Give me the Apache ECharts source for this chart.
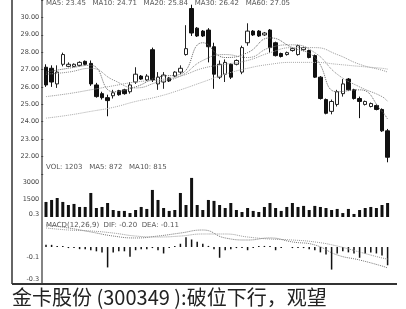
<!DOCTYPE html>
<html>
<head>
<meta charset="utf-8">
<script src="https://cdn.jsdelivr.net/npm/echarts@6/dist/echarts.min.js"></script>
<style>
html, body { margin: 0; padding: 0; background: #fff; }
#chart { width: 406px; height: 309px; }
</style>
</head>
<body>
<div id="chart"></div>
<script>
// K线数据 [开, 收, 低, 高]
const candles = [
  [27.13, 26.11, 26.00, 27.30], [27.07, 26.28, 26.00, 27.24], [26.17, 26.85, 25.94, 27.24],
  [27.30, 27.86, 27.18, 27.97], [27.18, 27.30, 27.13, 27.41], [27.18, 27.30, 27.13, 27.35],
  [27.24, 27.41, 27.18, 27.47], [27.47, 27.30, 27.24, 27.52], [27.35, 26.17, 26.06, 27.52],
  [26.11, 25.44, 25.38, 26.23], [25.61, 25.38, 25.27, 25.72], [25.38, 25.21, 24.31, 25.55],
  [25.49, 25.66, 25.33, 25.83], [25.78, 25.55, 25.49, 25.83], [25.83, 25.61, 25.55, 25.89],
  [25.72, 26.11, 25.61, 26.28], [26.28, 26.73, 26.17, 27.13], [26.62, 26.45, 26.40, 26.68],
  [26.40, 26.62, 26.34, 26.73], [28.14, 26.40, 26.28, 28.26], [26.17, 26.56, 25.83, 26.85],
  [26.28, 26.68, 25.89, 26.85], [26.51, 26.34, 26.28, 26.56], [26.62, 26.85, 26.56, 26.90],
  [26.85, 27.07, 26.73, 27.24], [27.86, 28.20, 27.80, 29.55], [30.51, 29.10, 28.93, 30.73],
  [29.38, 28.93, 28.87, 29.44], [29.21, 28.93, 28.87, 29.27], [29.27, 28.31, 27.41, 29.38],
  [28.31, 26.73, 25.89, 28.54], [26.56, 27.30, 26.45, 27.52], [26.73, 27.41, 26.28, 27.58],
  [27.30, 26.56, 26.45, 27.35], [27.30, 27.52, 27.24, 27.58], [26.85, 28.26, 26.73, 28.37],
  [28.54, 29.21, 28.37, 29.66], [29.21, 28.99, 28.93, 29.27], [29.21, 28.93, 28.87, 29.27],
  [28.99, 29.10, 28.93, 29.16], [29.27, 28.26, 27.97, 29.33], [28.54, 27.80, 27.75, 28.60],
  [27.92, 27.75, 27.69, 27.97], [27.86, 27.97, 27.80, 28.03], [28.09, 28.20, 28.03, 28.26],
  [27.86, 28.37, 27.80, 28.43], [28.14, 28.26, 28.09, 28.31], [28.09, 27.69, 27.64, 28.14],
  [27.80, 26.56, 26.51, 27.86], [26.56, 25.33, 25.27, 26.62], [25.27, 24.48, 24.42, 25.33],
  [24.59, 25.16, 24.42, 25.27], [24.99, 25.72, 24.87, 25.83], [25.61, 26.17, 25.44, 26.45],
  [26.45, 25.83, 25.78, 26.51], [25.83, 25.33, 25.27, 25.89], [25.33, 25.16, 24.20, 25.44],
  [24.99, 25.16, 24.93, 25.21], [24.87, 25.04, 24.82, 25.10], [24.93, 24.70, 24.65, 24.99],
  [24.70, 23.47, 23.41, 24.76], [23.47, 21.95, 21.66, 23.58]
]

// 均线（每隔几根估读一次，其余留空）
const ma5 = [26.85, null, null, null, 27.07, null, null, null, 27.24, null, null, null, 25.72, null, null, null,
  26.00, null, null, null, 26.56, null, null, null, 26.73, null, null, null, 28.54, null, null, null,
  27.69, null, null, null, 27.97, null, null, null, 28.82, null, null, null, 28.26, null, null, null,
  27.69, null, null, null, 25.72, null, null, null, 25.83, null, null, null, 24.59, 24.14]
const ma10 = [26.73, null, null, null, 26.85, null, null, null, 27.07, null, null, null, 26.40, null, null, null,
  25.94, null, null, null, 26.28, null, null, null, 26.62, null, null, null, 27.52, null, null, null,
  27.86, null, null, null, 27.69, null, null, null, 28.26, null, null, null, 28.42, null, null, null,
  27.97, null, null, null, 26.73, null, null, null, 26.00, null, null, null, 25.44, 25.16]
const ma20 = [25.44, null, null, null, 25.61, null, null, null, 25.83, null, null, null, 26.06, null, null, null,
  26.28, null, null, null, 26.40, null, null, null, 26.62, null, null, null, 27.07, null, null, null,
  27.30, null, null, null, 27.52, null, null, null, 27.97, null, null, null, 28.26, null, null, null,
  28.26, null, null, null, 27.86, null, null, null, 27.30, null, null, null, 26.96, 26.85]
const ma60 = [24.20, null, null, null, 24.37, null, null, null, 24.59, null, null, null, 24.82, null, null, null,
  25.16, null, null, null, 25.44, null, null, null, 25.83, null, null, null, 26.28, null, null, null,
  26.73, null, null, null, 27.07, null, null, null, 27.30, null, null, null, 27.41, null, null, null,
  27.41, null, null, null, 27.30, null, null, null, 27.18, null, null, null, 27.07, 27.02]

// 成交量
const volumes = [1290, 1460, 1630, 1290, 1030, 1120, 860, 860, 2060, 770, 860, 1200, 600, 520, 520, 340,
  600, 860, 690, 2320, 1460, 770, 520, 600, 2060, 1030, 3350, 1030, 600, 1460, 1380, 1030,
  770, 1200, 600, 430, 770, 520, 430, 860, 1200, 770, 520, 860, 1200, 860, 950, 600,
  950, 860, 770, 600, 690, 340, 690, 260, 600, 770, 860, 770, 1030, 1200]

// MACD
const macdBar = [0.02, 0.02, 0.01, 0.01, -0.01, -0.01, -0.02, -0.02, -0.03, -0.04, -0.05, -0.19, -0.05, -0.04, -0.04, -0.09,
  -0.03, -0.02, -0.02, -0.01, -0.03, -0.06, -0.01, 0.01, 0.03, 0.09, 0.07, 0.05, 0.03, 0.01, -0.02, -0.10,
  -0.03, -0.02, -0.01, -0.01, -0.03, -0.01, 0.01, 0.01, 0.01, -0.03, -0.01, 0.00, -0.01, -0.01, -0.01, -0.02,
  -0.03, -0.05, -0.07, -0.21, -0.06, -0.04, -0.05, -0.06, -0.10, -0.06, -0.05, -0.06, -0.08, -0.17]
const dif = [0.205, null, null, null, 0.177, null, null, null, 0.140, null, null, null, 0.102, null, null, null,
  0.084, null, null, null, 0.102, null, null, null, 0.130, null, null, null, 0.158, null, null, null,
  0.084, null, null, null, 0.065, null, null, null, 0.084, null, null, null, 0.047, null, null, null,
  0.019, null, null, null, -0.074, null, null, null, -0.121, null, null, null, -0.177, -0.195]
const dea = [0.177, null, null, null, 0.158, null, null, null, 0.149, null, null, null, 0.130, null, null, null,
  0.102, null, null, null, 0.093, null, null, null, 0.102, null, null, null, 0.121, null, null, null,
  0.121, null, null, null, 0.093, null, null, null, 0.074, null, null, null, 0.065, null, null, null,
  0.047, null, null, null, 0.009, null, null, null, -0.047, null, null, null, -0.102, -0.112]

const days = candles.map((_, i) => String(i + 1))

const priceLegend = 'MA5: 23.45   MA10: 24.71   MA20: 25.84   MA30: 26.42   MA60: 27.05'
const volLegend = 'VOL: 1203   MA5: 872   MA10: 815'
const macdLegend = 'MACD(12,26,9)  DIF: -0.20  DEA: -0.11'
const caption = '金卡股份 (300349 ):破位下行，观望'

const labelStyle = { fontSize: 6.5, color: '#444', fontFamily: 'DejaVu Sans', margin: 4 }

function hiddenX(gridIndex) {
  return {
    type: 'category', gridIndex, data: days, boundaryGap: true,
    axisLine: { show: false }, axisTick: { show: false }, axisLabel: { show: false }, splitLine: { show: false }
  }
}

function maSeries(data, color) {
  return {
    type: 'line', data, xAxisIndex: 0, yAxisIndex: 0, smooth: true, connectNulls: true,
    symbol: 'none', silent: true,
    lineStyle: { color, width: 1, type: 'dotted' }
  }
}

const chart = echarts.init(document.getElementById('chart'))

chart.setOption({
  animation: false,
  backgroundColor: '#fff',
  grid: [
    { left: 43.2, width: 347.2, top: -3.75, height: 177.5 },
    { left: 43.2, width: 347.2, top: 164.5, height: 52.5 },
    { left: 43.2, width: 347.2, top: 193.25, height: 86 }
  ],
  xAxis: [hiddenX(0), hiddenX(1), hiddenX(2)],
  yAxis: [
    {
      gridIndex: 0, min: 21, max: 31, interval: 1,
      axisLine: { show: false }, splitLine: { show: false },
      axisTick: { show: true, length: 2, lineStyle: { color: '#444' } },
      axisLabel: { ...labelStyle, formatter: v => (v === 21 || v === 31) ? '' : v.toFixed(2) }
    },
    {
      gridIndex: 1, min: 0, max: 4500, interval: 1500,
      axisLine: { show: false }, splitLine: { show: false },
      axisTick: { show: false },
      axisLabel: { ...labelStyle, formatter: v => (v === 1500 || v === 3000) ? String(v) : '' }
    },
    {
      gridIndex: 2, min: -0.3, max: 0.5, interval: 0.1,
      axisLine: { show: false }, splitLine: { show: false },
      axisTick: { show: false },
      axisLabel: {
        ...labelStyle,
        formatter: v => {
          const r = Math.round(v * 10) / 10
          return (r === -0.3 || r === -0.1 || r === 0.3) ? r.toFixed(1) : ''
        }
      }
    }
  ],
  series: [
    {
      type: 'candlestick', data: candles, xAxisIndex: 0, yAxisIndex: 0,
      barWidth: 4, clip: false,
      itemStyle: { color: '#fff', color0: '#111', borderColor: '#222', borderColor0: '#111', borderWidth: 1 }
    },
    maSeries(ma5, '#666'),
    maSeries(ma10, '#888'),
    maSeries(ma20, '#999'),
    maSeries(ma60, '#aaa'),
    {
      type: 'bar', data: volumes, xAxisIndex: 1, yAxisIndex: 1,
      barWidth: 3, itemStyle: { color: '#111' }
    },
    {
      type: 'bar', data: macdBar, xAxisIndex: 2, yAxisIndex: 2,
      barWidth: 1.5, itemStyle: { color: '#111' }
    },
    {
      type: 'line', data: dif, xAxisIndex: 2, yAxisIndex: 2, smooth: true, connectNulls: true,
      symbol: 'none', lineStyle: { color: '#777', width: 1, type: 'dotted' }
    },
    {
      type: 'line', data: dea, xAxisIndex: 2, yAxisIndex: 2, smooth: true, connectNulls: true,
      symbol: 'none', lineStyle: { color: '#999', width: 1, type: 'dotted' }
    }
  ],
  graphic: [
    { type: 'line', shape: { x1: 12, y1: 0, x2: 12, y2: 284 }, style: { stroke: '#333', lineWidth: 1.5 } },
    { type: 'line', shape: { x1: 42, y1: 0, x2: 42, y2: 283 }, style: { stroke: '#333', lineWidth: 1.2 } },
    { type: 'line', shape: { x1: 12, y1: 284, x2: 397, y2: 284 }, style: { stroke: '#333', lineWidth: 2 } },
    { type: 'text', left: 46, top: 0, style: { text: priceLegend, fontSize: 7, fill: '#555', fontFamily: 'DejaVu Sans' } },
    { type: 'text', left: 46, top: 164, style: { text: volLegend, fontSize: 7, fill: '#555', fontFamily: 'DejaVu Sans' } },
    { type: 'text', left: 46, top: 222, style: { text: macdLegend, fontSize: 7, fill: '#555', fontFamily: 'DejaVu Sans' } },
    { type: 'text', left: 12, top: 287, style: { text: caption, fontSize: 20, fill: '#222', fontFamily: 'Noto Sans CJK SC' } }
  ]
})
</script>
</body>
</html>
